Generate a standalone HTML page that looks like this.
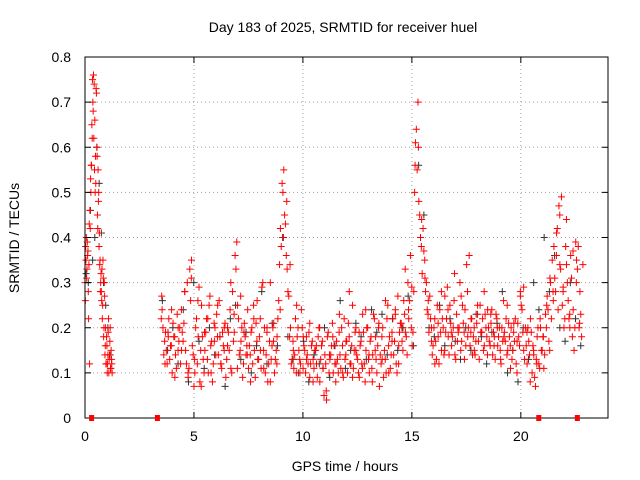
<!DOCTYPE html>
<html><head><meta charset="utf-8"><style>
html,body{margin:0;padding:0;background:#fff;}
svg{display:block;font-family:"Liberation Sans",sans-serif;}
</style></head><body>
<svg id="chart" width="640" height="480" viewBox="0 0 640 480">
<rect x="0" y="0" width="640" height="480" fill="#fff"/>
<g id="grid"></g>
<g id="black"></g>
<g id="red"></g>
<g id="axes"></g>
<text x="343" y="32" text-anchor="middle" font-size="14">Day 183 of 2025, SRMTID for receiver huel</text>
<text x="345" y="471" text-anchor="middle" font-size="14">GPS time / hours</text>
<text transform="translate(19,238) rotate(-90)" text-anchor="middle" font-size="14">SRMTID / TECUs</text>
</svg>
<script>
const xTicks=[0,5,10,15,20];
const yTicks=[0,0.1,0.2,0.3,0.4,0.5,0.6,0.7,0.8];
const yTickLabels=["0","0.1","0.2","0.3","0.4","0.5","0.6","0.7","0.8"];
const gapMarkers=[0.28,3.3,20.8,22.57];
const seg1Start=0.0, seg1Step=0.03;
const seg1A=[.3,.38,.4,.33,.36,.28,.34,.12,.42,.5,.56,.62,.7,.76,.74,.66,.58,.73,.6,.45,.55,.5,.41,.35,.3,.28,.33,.25,.31,.2,.27,.16,.12,.18,.1,.14,.22,.13,.17,.11,.15,.12];
const seg1B=[.26,.35,.31,.39,.37,.22,.43,.46,.53,.56,.65,.75,.68,.62,.55,.5,.52,.72,.58,.42,.48,.38,.34,.28,.32,.26,.22,.35,.18,.3,.14,.2,.12,.16,.12,.19,.1,.14,.2,.11,.13,.1];
const seg2Start=3.5, seg2Step=0.077;
const seg2A=[.22,.2,.17,.15,.19,.13,.16,.21,.18,.11,.15,.2,.24,
.17,.28,.12,.09,.33,.35,.14,.1,.22,.18,.08,.25,.13,
.15,.22,.1,.27,.17,.12,.2,.23,.14,.18,.11,.16,.21,
.13,.19,.24,.1,.17,.36,.39,.22,.15,.2,.12,.18,.16,
.11,.14,.2,.25,.09,.17,.13,.22,.29,.15,.1,.19,.12,
.08,.16,.21,.13,.18,.26,.42,.52,.55,.43,.33,.27,.2,
.13,.11,.22,.18,.15,.12,.2,.16,.1,.14,.19,.12,.17,
.11,.15,.09,.2,.13,.17,.05,.12,.18,.1,.14,.21,.16,
.08,.13,.19,.11,.16,.22,.14,.1,.18,.12,.25,.15,.2,
.13,.09,.17,.23,.12,.15,.2,.1,.18,.14,.22,.13,.16,
.07,.12,.2,.15,.1,.25,.18,.14,.22,.17,.12,.27,.19,
.21,.15,.23,.18,.3,.26,.2,.19,.5,.64,.7,.45,.38,
.42,.35,.3,.23,.27,.2,.16,.22,.13,.18,.24,.15,.2,
.27,.22,.18,.25,.16,.2,.14,.23,.19,.3,.17,.21,.24,
.34,.2,.16,.22,.18,.14,.21,.17,.25,.19,.15,.23,.18,
.2,.16,.24,.19,.13,.22,.18,.15,.2,.26,.17,.14,.21,
.16,.13,.19,.22,.1,.18,.28,.24,.15,.2,.12,.17,.22,
.1,.14,.07,.18,.12,.2,.15,.11,.23,.27,.17,.3,.35,
.38,.28,.42,.47,.33,.25,.2,.38,.3,.22,.36,.18,.15,
.39,.33,.2,.23];
const seg2B=[.24,.14,.19,.12,.22,.16,.1,.18,.14,.23,.17,.12,.19,
.21,.15,.3,.11,.26,.16,.07,.2,.12,.29,.15,.18,.1,
.19,.13,.25,.16,.08,.21,.14,.18,.26,.12,.19,.15,.09,
.2,.15,.11,.28,.19,.33,.25,.14,.17,.09,.21,.14,.24,
.16,.19,.12,.15,.21,.13,.18,.11,.3,.2,.14,.08,.17,
.13,.2,.1,.15,.22,.34,.38,.5,.45,.36,.28,.18,.12,
.17,.14,.1,.2,.13,.24,.11,.15,.18,.12,.09,.16,.13,
.15,.12,.18,.08,.16,.11,.14,.04,.19,.13,.16,.1,.12,
.17,.1,.14,.2,.09,.13,.17,.21,.12,.16,.11,.19,.14,
.1,.16,.12,.19,.08,.2,.13,.17,.11,.23,.15,.1,.2,
.14,.18,.09,.13,.22,.16,.11,.19,.14,.24,.1,.16,.21,
.17,.26,.19,.14,.22,.36,.16,.28,.61,.55,.48,.4,.32,
.37,.28,.24,.19,.22,.14,.2,.17,.25,.12,.19,.22,.14,
.19,.29,.14,.21,.18,.26,.13,.17,.2,.15,.25,.19,.16,
.28,.36,.19,.14,.2,.17,.23,.13,.19,.22,.16,.2,.24,
.17,.21,.14,.18,.23,.16,.2,.12,.17,.19,.22,.15,.18,
.2,.15,.17,.12,.21,.16,.25,.19,.13,.16,.2,.14,.19,
.16,.09,.13,.2,.11,.15,.18,.14,.2,.24,.15,.22,.28,
.31,.36,.24,.45,.49,.28,.22,.34,.26,.2,.31,.24,.2,
.35,.38,.28,.18];
const seg2CStart=3.52, seg2CStep=0.151;
const seg2C=[.27,.12,.18,.24,.09,.2,.15,.28,.1,.31,
.13,.26,.07,.19,.22,.1,.17,.25,.12,.2,
.16,.3,.23,.11,.27,.19,.14,.08,.22,.26,
.15,.11,.2,.3,.17,.12,.24,.4,.48,.34,
.15,.25,.1,.18,.13,.21,.08,.16,.2,.11,
.06,.14,.18,.12,.23,.1,.17,.28,.09,.15,
.19,.11,.24,.14,.08,.18,.21,.13,.26,.1,
.17,.23,.12,.2,.33,.24,.29,.56,.6,.44,
.31,.26,.17,.12,.21,.28,.15,.24,.19,.32,
.2,.27,.13,.18,.22,.15,.25,.19,.28,.14,
.23,.16,.2,.13,.18,.25,.11,.21,.17,.27,
.29,.19,.08,.15,.12,.22,.18,.25,.31,.26,
.41,.34,.29,.44,.23,.37,.3,.21,.34];
const blk1Start=0.05, blk1Step=0.1;
const blk1=[.32,.3,.46,.35,.4,.6,.52,.41,.3,.25,.2,.14];
const blk2Start=3.55, blk2Step=0.24;
const blk2=[.26,.15,.2,.12,.24,.08,.3,.17,.11,.2,.14,.18,.07,.22,.25,.13,.19,.1,.16,.28,.12,.21,.16,.4,.18,.13,.1,.17,.08,.14,.12,.2,.09,.16,.26,.11,.15,.21,.18,.13,.24,.19,.23,.14,.22,.15,.2,.27,.16,.56,.45,.2,.18,.25,.16,.22,.17,.13,.2,.15,.23,.18,.12,.19,.21,.28,.1,.15,.08,.2,.13,.3,.24,.4,.28,.36,.2,.17,.3,.22,.16];

const L=85,R=608,T=57,B=418;
const X=h=>L+(R-L)*h/24;
const Y=v=>B-(B-T)*v/0.8;
const NS="http://www.w3.org/2000/svg";
function mk(tag,attrs,parent){const e=document.createElementNS(NS,tag);for(const k in attrs)e.setAttribute(k,attrs[k]);parent.appendChild(e);return e;}
const grid=document.getElementById('grid'),axes=document.getElementById('axes');
xTicks.forEach(t=>{
  if(t>0){const g=mk('line',{x1:X(t),x2:X(t),y1:T,y2:B,stroke:'#a0a0a0','stroke-dasharray':'1,3'},grid);
  
  }
  const tk=mk('path',{d:`M${X(t)},${B}v-6M${X(t)},${T}v6`,stroke:'#000'},axes);
  
  
  const lb=mk('text',{x:X(t),y:B+23,'text-anchor':'middle','font-size':14},axes);lb.textContent=t;
  
  
});
yTicks.forEach((t,i)=>{
  if(t>0&&t<0.8){const g=mk('line',{x1:L,x2:R,y1:Y(t),y2:Y(t),stroke:'#a0a0a0','stroke-dasharray':'1,3'},grid);
  
  }
  const tk=mk('path',{d:`M${L},${Y(t)}h6M${R},${Y(t)}h-6`,stroke:'#000'},axes);
  
  
  const lb=mk('text',{x:L-14,y:Y(t)+5,'text-anchor':'end','font-size':14},axes);lb.textContent=yTickLabels[i];
  
  
});
const frame=mk('rect',{x:L,y:T,width:R-L,height:B-T,fill:'none',stroke:'#000'},axes);


gapMarkers.forEach(h=>{
  const r=mk('rect',{x:X(h)-2,y:B-3,width:5,height:6,fill:'#f00'},axes);
  
  
});
function plus(parent,h,v,col,name){
  const p=mk('path',{d:`M${X(h)-3.5},${Y(v)}h7M${X(h)},${Y(v)-3.5}v7`,stroke:col,'stroke-width':1},parent);
  
  
}
const bg=document.getElementById('black'),rg=document.getElementById('red');
blk1.forEach((v,i)=>plus(bg,blk1Start+i*blk1Step,v,'#333','black-point'));
blk2.forEach((v,i)=>plus(bg,blk2Start+i*blk2Step,v,'#333','black-point'));
seg1A.forEach((v,i)=>plus(rg,seg1Start+i*seg1Step,v,'#f00','red-point'));
seg1B.forEach((v,i)=>plus(rg,seg1Start+0.015+i*seg1Step,v,'#f00','red-point'));
seg2A.forEach((v,i)=>plus(rg,seg2Start+i*seg2Step,v,'#f00','red-point'));
seg2B.forEach((v,i)=>plus(rg,seg2Start+0.038+i*seg2Step,v,'#f00','red-point'));
seg2C.forEach((v,i)=>plus(rg,seg2CStart+i*seg2CStep,v,'#f00','red-point'));
</script>
</body></html>
